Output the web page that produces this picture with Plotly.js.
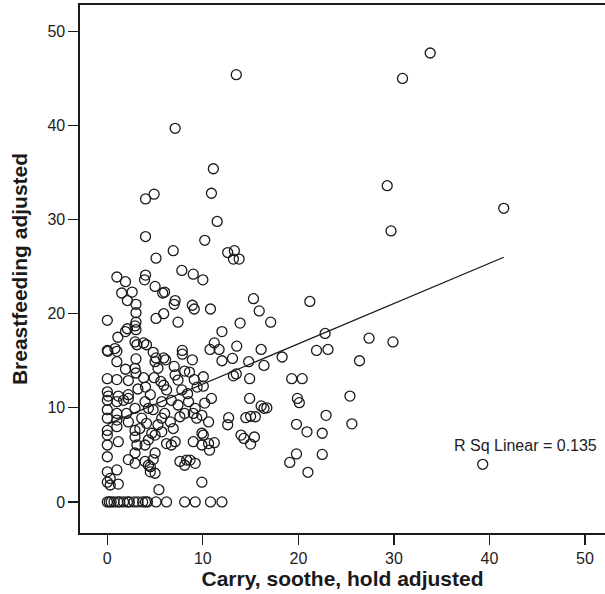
<!DOCTYPE html>
<html>
<head>
<meta charset="utf-8">
<script src="https://cdn.plot.ly/plotly-3.0.1.min.js"></script>
<style>html,body{margin:0;padding:0;background:#fff;}#chart{width:605px;height:594px;}</style>
</head>
<body>
<div id="chart"></div>
<script>
// Carry, soothe, hold adjusted (x) vs Breastfeeding adjusted (y)
const carryX = [
 13.5,7.1,11.1,33.8,30.9,29.3,29.7,41.5,27.4,29.9,39.3,
 4.0,4.9,10.9,11.5,4.0,10.2,6.9,5.1,12.6,13.3,13.2,13.8,7.8,9.0,10.0,1.0,1.9,4.0,3.9,5.0,1.5,2.6,5.8,6.0,
 2.1,3.0,3.0,3.0,0.0,5.1,5.9,7.4,7.1,7.0,8.9,9.1,10.8,
 2.9,3.0,2.1,1.9,1.1,2.9,3.1,3.8,4.1,0.0,0.05,0.8,1.0,4.8,5.1,5.9,6.1,7.85,7.85,8.9,3.0,1.0,1.9,2.9,3.0,5.0,5.3,7.0,8.1,
 0.0,1.0,2.2,3.8,4.9,4.0,3.2,5.6,5.9,7.1,7.4,9.1,9.4,0.0,0.1,1.15,2.2,4.5,6.2,7.8,8.4,8.6,
 15.3,15.9,21.2,13.9,17.1,12.0,11.2,10.75,11.7,13.55,16.1,12.0,13.1,14.8,16.4,18.3,22.8,21.9,23.1,13.2,13.5,14.9,19.3,20.4,10.05,
 26.4,10.05,10.9,10.2,14.9,25.4,19.9,20.1,16.1,16.4,16.7,9.9,10.6,12.7,12.6,14.5,15.0,15.5,22.9,19.8,20.9,22.5,25.6,9.9,10.05,
 14.0,14.3,15.4,15.0,11.2,10.7,19.8,19.1,22.5,21.0,9.9,
 0.0,0.0,0.0,0.0,0.0,0.0,0.0,0.0,0.0,1.0,0.3,1.15,0.3,5.4,
 1.0,1.0,1.0,1.0,1.15,2.0,2.2,2.9,2.9,3.4,3.1,2.2,2.9,3.95,4.3,4.5,5.0,4.8,5.0,3.95,4.3,5.0,5.7,5.7,6.0,5.3,6.6,6.9,6.7,7.1,6.2,
 7.6,8.3,8.66,9.2,8.1,9.0,9.9,8.5,9.2,9.36,8.1,7.4,6.7,3.95,4.3,4.8,5.7,2.2,1.7,2.9,3.6,4.1,4.65,2.9,7.6,9.0,4.5,10.6,
 0.0,0.2,0.4,0.7,1.1,1.3,1.7,2.1,2.3,2.8,3.2,3.7,4.0,4.2,5.1,6.2,8.1,9.2,10.8,12.0
];
const breastY = [
 45.4,39.7,35.4,47.7,45.0,33.6,28.8,31.2,17.4,17.0,4.0,
 32.2,32.7,32.8,29.8,28.2,27.8,26.7,25.9,26.5,26.7,25.8,25.8,24.6,24.2,23.6,23.9,23.4,24.1,23.6,22.9,22.2,22.3,22.2,22.3,
 21.4,21.0,20.1,19.1,19.3,19.5,20.0,19.1,21.4,21.0,20.9,20.5,20.5,
 18.7,18.3,18.4,18.1,17.5,17.0,16.7,16.9,16.7,16.1,16.0,16.3,16.0,15.9,15.3,15.3,15.1,16.1,15.7,15.1,15.2,14.9,14.1,14.2,13.7,14.9,14.2,14.4,13.9,
 13.1,13.0,12.9,13.2,13.2,12.2,12.0,12.8,12.4,13.5,12.95,13.0,12.2,11.7,11.25,11.25,11.4,11.4,11.9,11.9,11.5,13.8,
 21.6,20.3,21.3,19.0,19.1,18.1,16.9,16.2,16.2,16.55,16.2,15.0,15.25,14.9,14.5,15.4,17.9,16.1,16.2,13.4,13.6,13.1,13.1,13.1,13.3,
 15.0,12.3,11.0,10.5,11.0,11.25,11.0,10.55,10.2,9.95,10.0,9.2,8.5,8.95,8.2,8.95,9.1,9.05,9.2,8.25,7.45,7.3,8.3,7.3,7.1,
 7.1,6.75,6.9,6.15,6.3,5.5,5.1,4.2,5.05,3.15,2.1,
 10.8,9.8,8.9,7.6,7.1,6.05,4.8,3.2,2.1,3.4,2.5,1.9,1.8,1.3,
 10.65,9.4,8.7,8.0,6.4,9.4,8.5,7.6,6.9,7.8,6.05,4.5,4.1,4.3,3.9,3.2,3.05,4.5,5.2,6.05,6.6,7.1,7.45,8.9,9.4,8.2,8.5,7.8,6.05,6.4,6.2,
 4.3,4.45,4.45,4.1,3.9,6.4,6.05,10.65,9.95,8.9,9.4,10.3,10.8,10.65,9.95,9.8,10.65,11.0,10.8,9.95,8.9,8.35,7.3,5.2,9.05,9.4,3.75,6.2,
 0,0,0,0,0,0,0,0,0,0,0,0,0,0,0,0,0,0,0,0
];
// Fit line (linear regression as printed in the chart)
const fitX = [0, 41.5];
const fitY = [8.25, 26.0];
const rSqLabel = "R Sq Linear = 0.135";
const xTickVals = [0,10,20,30,40,50];
const yTickVals = [0,10,20,30,40,50];

const ink = '#1a1a1a';
const fam = 'Liberation Sans, Arial, sans-serif';
const traces = [
 {x: carryX, y: breastY, mode: 'markers', type: 'scatter',
  marker: {symbol: 'circle-open', size: 10, color: ink, line: {width: 1.3, color: ink}},
  hoverinfo: 'x+y', showlegend: false},
 {x: fitX, y: fitY, mode: 'lines', type: 'scatter',
  line: {color: ink, width: 1.3}, showlegend: false, hoverinfo: 'skip'}
];
const axisFont = {family: fam, size: 16, color: '#222'};
const titleFont = {family: fam, size: 21, color: '#1a1a1a', weight: 'bold'};
const layout = {
 width: 605, height: 594,
 margin: {l: 80, r: 0, t: 5, b: 61},
 paper_bgcolor: '#fff', plot_bgcolor: '#fff',
 font: axisFont,
 xaxis: {range: [-2.86, 52.1], tickvals: xTickVals, ticks: 'outside', ticklen: 10, tickwidth: 1.3, tickcolor: ink,
   showline: true, mirror: true, linecolor: ink, linewidth: 1.6, showgrid: false, zeroline: false,
   tickfont: axisFont,
   title: {text: 'Carry, soothe, hold adjusted', font: titleFont, standoff: 4}},
 yaxis: {range: [-3.3, 52.8], tickvals: yTickVals, ticks: 'outside', ticklen: 10, tickwidth: 1.3, tickcolor: ink,
   showline: true, mirror: false, linecolor: ink, linewidth: 1.6, showgrid: false, zeroline: false,
   tickfont: axisFont,
   title: {text: 'Breastfeeding adjusted', font: titleFont, standoff: 14}},
 annotations: [{x: 43.8, y: 6.05, xref: 'x', yref: 'y', text: rSqLabel, showarrow: false,
   font: {family: fam, size: 16, color: '#222'}}]
};
Plotly.newPlot('chart', traces, layout, {displayModeBar: false, staticPlot: true});
</script>
</body>
</html>
